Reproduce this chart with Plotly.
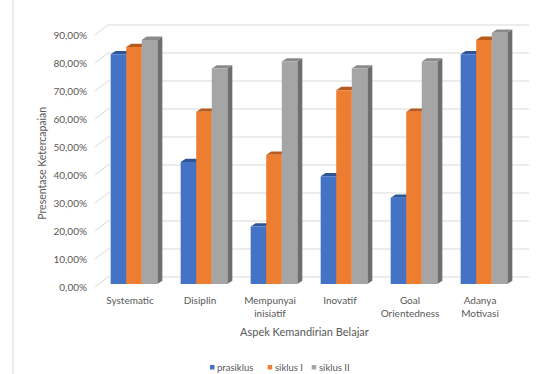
import plotly.graph_objects as go

categories = ["Systematic", "Disiplin", "Mempunyai<br>inisiatif", "Inovatif", "Goal<br>Orientedness", "Adanya<br>Motivasi"]
series_names = ["prasiklus", "siklus I", "siklus II"]
prasiklus = [0.8205, 0.4359, 0.2051, 0.3846, 0.3077, 0.8205]
siklus_1 = [0.8462, 0.6154, 0.4615, 0.6923, 0.6154, 0.8718]
siklus_2 = [0.8718, 0.7692, 0.7949, 0.7692, 0.7949, 0.8974]
y_ticks = [0, 0.1, 0.2, 0.3, 0.4, 0.5, 0.6, 0.7, 0.8, 0.9]

series = [prasiklus, siklus_1, siklus_2]
front_colors = ["#4472C4", "#ED7D31", "#A5A5A5"]
top_colors = ["#2F5597", "#B85B1E", "#8A8A8A"]
side_colors = ["#2E4F8C", "#A94F14", "#6E6E6E"]

FONT = "Lato"
TXT = "#595959"
GRID = "#D9D9D9"

# plot area in pixels
W, H = 540, 374
L, R, T, B = 94, 531, 20, 290
XA = -0.5 - 5 / 70
XB = XA + (R - L) / 70
YMIN = -6 / 280
YMAX = YMIN + (B - T) / 280

def px_x(p):
    return (p - L) / (R - L)

def px_y(p):
    return (B - p) / (B - T)

bw = 0.2222
dx = 5 / 70
dy = 3.3 / 280
wall_dy = 7 / 280
front_dy = -3 / 280
x_front_left = XA + 1 / 70
x_back_left = XA + 14 / 70
x_back_right = XA + 435 / 70

shapes = []
# back wall gridlines and side-wall diagonals
for v in y_ticks:
    shapes.append(dict(type="line", xref="x", yref="y", x0=x_back_left, x1=x_back_right,
                       y0=v + wall_dy, y1=v + wall_dy, line=dict(color=GRID, width=1), layer="below"))
    shapes.append(dict(type="line", xref="x", yref="y", x0=x_front_left, x1=x_back_left,
                       y0=v + front_dy, y1=v + wall_dy, line=dict(color=GRID, width=1), layer="below"))

# 3D faces of bars
for k, vals in enumerate(series):
    off = -1.5 * bw + k * bw
    for i, v in enumerate(vals):
        x0 = i + off
        x1 = x0 + bw
        top = f"M{x0},{v} L{x0+dx},{v+dy} L{x1+dx},{v+dy} L{x1},{v} Z"
        side = f"M{x1},{0} L{x1+dx},{dy} L{x1+dx},{v+dy} L{x1},{v} Z"
        shapes.append(dict(type="path", xref="x", yref="y", path=side,
                           fillcolor=side_colors[k], line=dict(width=0), layer="below"))
        shapes.append(dict(type="path", xref="x", yref="y", path=top,
                           fillcolor=top_colors[k], line=dict(width=0), layer="below"))

# chart-area border (left edge)
shapes.append(dict(type="line", xref="paper", yref="paper", x0=px_x(13), x1=px_x(13),
                   y0=px_y(374), y1=px_y(0), line=dict(color=GRID, width=1)))

fig = go.Figure()
for k, vals in enumerate(series):
    fig.add_trace(go.Bar(
        x=list(range(len(categories))), y=vals, name=series_names[k],
        width=bw, offset=-1.5 * bw + k * bw,
        marker=dict(color=front_colors[k], line=dict(width=0)),
        showlegend=False,
    ))

annotations = [
    dict(text="Presentase Ketercapaian", xref="paper", yref="paper", x=px_x(41.7), y=px_y(163),
         textangle=-90, showarrow=False, font=dict(family=FONT, size=10.5, color=TXT),
         xanchor="center", yanchor="middle"),
    dict(text="Aspek Kemandirian Belajar", xref="paper", yref="paper", x=px_x(304), y=px_y(331.7),
         showarrow=False, font=dict(family=FONT, size=11, color=TXT),
         xanchor="center", yanchor="middle"),
]

# custom legend
leg_sq = [(210, 214.5), (267.7, 272.2), (311.7, 316.2)]
leg_tx = [215.3, 273.3, 317.3]
for k in range(3):
    shapes.append(dict(type="rect", xref="paper", yref="paper",
                       x0=px_x(leg_sq[k][0]), x1=px_x(leg_sq[k][1]),
                       y0=px_y(369.5), y1=px_y(365), fillcolor=front_colors[k], line=dict(width=0)))
    annotations.append(dict(text=series_names[k], xref="paper", yref="paper",
                            x=px_x(leg_tx[k]), y=px_y(367), showarrow=False,
                            xanchor="left", yanchor="middle",
                            font=dict(family=FONT, size=9.5, color=TXT)))

fig.update_layout(
    width=W, height=H, autosize=False,
    margin=dict(l=L, r=W - R, t=T, b=H - B, pad=0),
    paper_bgcolor="white", plot_bgcolor="white",
    barmode="overlay",
    separators=",.",
    shapes=shapes, annotations=annotations,
    showlegend=False,
    font=dict(family=FONT, color=TXT),
)
fig.update_xaxes(
    range=[XA, XB], tickmode="array", tickvals=list(range(len(categories))), ticktext=categories,
    showgrid=False, zeroline=False, showline=False, ticks="",
    tickfont=dict(family=FONT, size=10, color=TXT), ticklabelshift=-4, ticklabelstandoff=3,
)
fig.update_yaxes(
    range=[YMIN, YMAX], tickmode="array", tickvals=y_ticks, tickformat=".2%",
    showgrid=False, zeroline=False, showline=False, ticks="",
    tickfont=dict(family=FONT, size=10, color=TXT), ticklabelshift=3, ticklabelstandoff=6,
)

fig.write_html("out.html")
